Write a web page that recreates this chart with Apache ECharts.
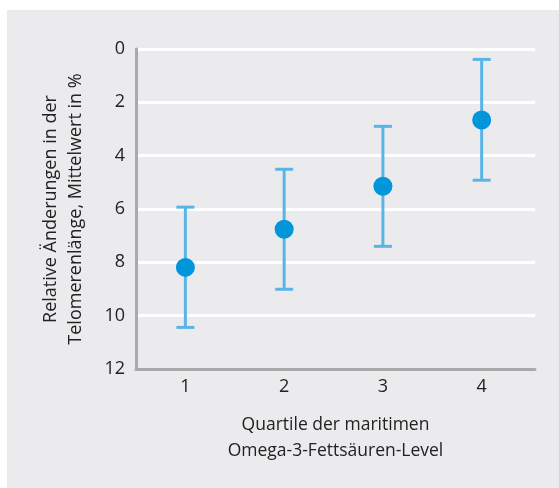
<!DOCTYPE html>
<html>
<head>
<meta charset="utf-8">
<script src="https://cdn.jsdelivr.net/npm/echarts@6/dist/echarts.min.js"></script>
<style>
html,body{margin:0;padding:0;background:#fff;}
#chart{width:559px;height:488px;}
</style>
</head>
<body>
<div id="chart"></div>
<script>
var quartiles = [1, 2, 3, 4];
var means = [8.19, 6.76, 5.15, 2.66];
var upperErr = [5.93, 4.51, 2.90, 0.39];
var lowerErr = [10.44, 9.01, 7.40, 4.92];
var yTicks = [0, 2, 4, 6, 8, 10, 12];

var FONT = '"Open Sans", "Noto Sans", sans-serif';
var chart = echarts.init(document.getElementById('chart'), null, {renderer: 'canvas'});

var errData = quartiles.map(function (q, i) { return [q, upperErr[i], lowerErr[i]]; });
var ptData = quartiles.map(function (q, i) { return [q, means[i]]; });

var option = {
  backgroundColor: '#ffffff',
  animation: false,
  graphic: [{
    type: 'rect', z: -10, silent: true,
    shape: {x: 7, y: 10, width: 552, height: 478},
    style: {fill: '#ebebed'}
  }],
  grid: {left: 136, top: 49, right: 24, bottom: 119, containLabel: false},
  xAxis: {
    type: 'value', min: 0.5, max: 4.54, position: 'bottom', z: 5,
    axisLine: {show: true, onZero: false, lineStyle: {color: '#a9a9a9', width: 3}},
    axisTick: {show: false},
    splitLine: {show: false},
    axisLabel: {customValues: quartiles, color: '#222', fontSize: 18, fontFamily: FONT, margin: 9},
    name: 'Quartile der maritimen\nOmega-3-Fettsäuren-Level',
    nameLocation: 'middle', nameGap: 43,
    nameTextStyle: {color: '#222', fontSize: 17.5, fontFamily: FONT, lineHeight: 26}
  },
  yAxis: {
    type: 'value', inverse: true, min: 0, max: 12, interval: 2, z: 1,
    axisLine: {show: true, onZero: false, lineStyle: {color: '#a9a9a9', width: 3}},
    axisTick: {show: false},
    splitLine: {show: true, showMaxLine: false, lineStyle: {color: '#ffffff', width: 3}},
    axisLabel: {color: '#222', fontSize: 18, fontFamily: FONT, margin: 11,
      formatter: function (v) { return yTicks.indexOf(v) >= 0 ? String(v) : ''; }},
    name: 'Relative Änderungen in der\nTelomerenlänge, Mittelwert in %',
    nameLocation: 'middle', nameGap: 48, nameRotate: 90,
    nameTextStyle: {color: '#222', fontSize: 18, fontFamily: FONT, lineHeight: 25}
  },
  series: [{
    type: 'custom',
    data: errData,
    z: 2,
    renderItem: function (params, api) {
      var x = api.value(0);
      var top = api.coord([x, api.value(1)]);
      var bot = api.coord([x, api.value(2)]);
      var hw = 9;
      var st = {stroke: '#5ab4e5', lineWidth: 3};
      return {type: 'group', children: [
        {type: 'line', shape: {x1: top[0], y1: top[1], x2: bot[0], y2: bot[1]}, style: st},
        {type: 'line', shape: {x1: top[0] - hw, y1: top[1], x2: top[0] + hw, y2: top[1]}, style: st},
        {type: 'line', shape: {x1: bot[0] - hw, y1: bot[1], x2: bot[0] + hw, y2: bot[1]}, style: st}
      ]};
    }
  }, {
    type: 'scatter',
    data: ptData,
    z: 3,
    symbol: 'circle',
    symbolSize: 19,
    itemStyle: {color: '#0096d9', opacity: 1}
  }]
};
chart.setOption(option);
</script>
</body>
</html>
